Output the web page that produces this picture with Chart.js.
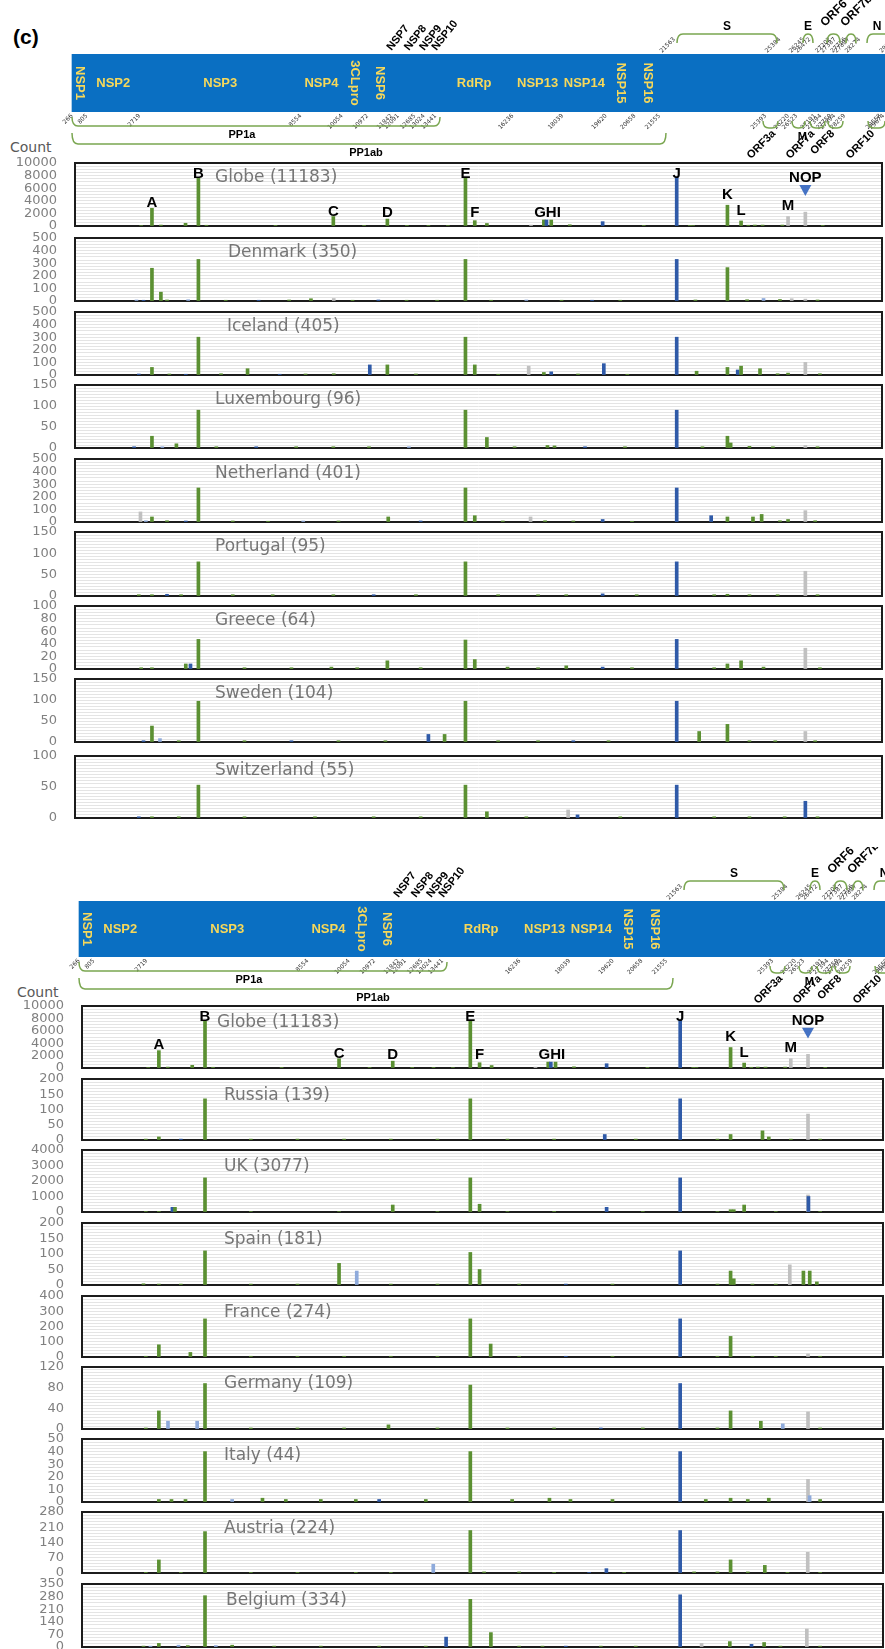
<!DOCTYPE html>
<html>
<head>
<meta charset="utf-8">
<script src="https://cdn.jsdelivr.net/npm/chart.js@4.4.1/dist/chart.umd.min.js"></script>
<style>
  html, body { margin: 0; padding: 0; background: #fff; }
  #page { position: relative; width: 885px; height: 1649px; overflow: hidden; }
  #page canvas { position: absolute; left: 0; }
  .lbl { position: absolute; font-family: "DejaVu Sans"; color: #595959; white-space: nowrap; }
</style>
</head>
<body>
<div id="page">
  <div class="lbl" style="left:13px;top:25px;font:bold 21px 'Liberation Sans';color:#000">(c)</div>
  <div class="lbl" style="left:10px;top:139px;font-size:14px">Count</div>
  <div class="lbl" style="left:17px;top:984px;font-size:14px">Count</div>
</div>
<script>
/* =========================
   GENOME MAP
==========================*/
const genomeRange = [266, 29903];
const boundaries = [805, 2719, 8554, 10054, 10972, 11842, 12091, 12685, 13024, 13441, 16236, 18039,
  19620, 20658, 21555, 25384, 26245, 26523, 27191, 27387, 27756, 27887, 28259, 29558];
const segNames = ["NSP1", "NSP2", "NSP3", "NSP4", "3CLpro", "NSP6", "RdRp", "NSP13", "NSP14", "NSP15", "NSP16"];
const segFrom = [266, 805, 2719, 8554, 10054, 10972, 13441, 16236, 18039, 19620, 20658];
const segTo = [805, 2719, 8554, 10054, 10972, 11842, 16236, 18039, 19620, 20658, 21555];
const segVertical = [true, false, false, false, true, true, false, false, false, true, true];
const smallNsp = ["NSP7", "NSP8", "NSP9", "NSP10"];
const smallNspAt = [11842, 12476, 13030, 13470];
const ticksBelow = [266, 805, 2719, 8554, 10054, 10972, 11842, 12091, 12685, 13024, 13441, 16236, 18039,
  19620, 20658, 21555, 25393, 26220, 26523, 27191, 27394, 27759, 27894, 28259, 29558, 29674];
const ticksAbove = [21563, 25384, 26245, 26472, 27202, 27387, 27756, 27887, 28274, 29533];

// brackets (genome units)
const aboveNames = ["S", "E", "ORF6", "ORF7b", "N"];
const aboveFrom = [22186, 26752, 27621, 28309, 29070];
const aboveTo = [25809, 27114, 28092, 28672, 29904];
const aboveLabelAt = [23997, 26933, 27549, 28273, 29433];
const aboveRotated = [false, false, true, true, false];
const belowNames = ["ORF3a", "M", "ORF7a", "ORF8", "ORF10"];
const belowFrom = [25302, 26353, 27005, 27657, 29107];
const belowTo = [25846, 26824, 27549, 28201, 29723];
const belowLabelAt = [25701, 26726, 27114, 27838, 29288];
const belowRotated = [true, false, true, true, true];
const polyNames = ["PP1a", "PP1ab"];
const polyFrom = [266, 266];
const polyTo = [13600, 21787];
const polyLabelAt = [6425, 10918];

/* =========================
   MUTATION COUNTS  [position, count, colour]
   g = green, b = dark blue, l = light blue, x = grey
==========================*/
const globeBars = [[600, 80, "g"], [1059, 2800, "g"], [1440, 150, "g"], [2489, 430, "g"], [3037, 7600, "g"],
  [3380, 120, "g"], [6320, 100, "g"], [8782, 1500, "g"], [10090, 100, "g"], [11083, 1100, "g"], [11915, 100, "g"],
  [12830, 100, "g"], [13660, 80, "g"], [14408, 7600, "g"], [14805, 850, "g"], [15321, 400, "g"],
  [17200, 150, "x"], [17747, 950, "g"], [17858, 950, "b"], [18060, 950, "g"], [18850, 200, "g"],
  [20250, 690, "b"], [22000, 60, "g"], [23403, 7750, "b"], [23960, 100, "g"], [24100, 80, "g"],
  [25563, 3300, "g"], [26144, 800, "g"], [26450, 120, "g"], [26730, 150, "g"], [27060, 150, "g"],
  [27900, 150, "g"], [28144, 1500, "x"], [28881, 2200, "x"], [29620, 100, "g"]];
const denmarkBars = [[400, 8, "l"], [700, 6, "b"], [1059, 260, "g"], [1440, 70, "g"], [1700, 8, "g"],
  [2600, 10, "l"], [3037, 330, "g"], [4200, 6, "g"], [5600, 6, "b"], [6900, 8, "g"], [7830, 18, "g"],
  [8800, 20, "x"], [9600, 6, "g"], [10700, 8, "b"], [11900, 6, "g"], [13200, 6, "g"], [14408, 330, "g"],
  [15500, 6, "g"], [17000, 8, "l"], [18500, 6, "g"], [19800, 6, "b"], [21000, 6, "g"], [23403, 330, "b"],
  [24200, 8, "g"], [25563, 265, "g"], [26400, 10, "g"], [27100, 20, "l"], [27800, 12, "g"],
  [28300, 18, "x"], [28881, 15, "x"], [29400, 8, "g"]];
const icelandBars = [[500, 8, "b"], [1059, 60, "g"], [1800, 8, "g"], [2500, 6, "b"], [3037, 300, "g"],
  [4000, 10, "g"], [5130, 50, "g"], [6500, 6, "b"], [7600, 8, "g"], [8800, 10, "g"], [10335, 80, "b"],
  [11083, 80, "g"], [12300, 8, "g"], [14408, 300, "g"], [14805, 80, "g"], [15800, 6, "g"], [17100, 70, "x"],
  [17747, 20, "g"], [18060, 25, "b"], [19200, 8, "g"], [20300, 90, "b"], [21300, 6, "g"], [23403, 300, "b"],
  [24250, 30, "g"], [25563, 60, "g"], [26000, 40, "b"], [26144, 70, "g"], [26950, 50, "g"], [27700, 10, "g"],
  [28144, 15, "g"], [28881, 100, "x"], [29500, 10, "g"]];
const luxembourgBars = [[300, 3, "b"], [1059, 28, "g"], [1500, 3, "l"], [2100, 10, "g"], [3037, 90, "g"],
  [3800, 3, "g"], [5500, 3, "b"], [7200, 3, "g"], [8782, 3, "g"], [10300, 3, "g"], [12000, 3, "l"],
  [14408, 90, "g"], [15320, 25, "g"], [16500, 3, "g"], [17900, 6, "g"], [18200, 5, "g"], [19500, 3, "b"],
  [21200, 3, "g"], [23403, 90, "b"], [24500, 3, "g"], [25563, 28, "g"], [25700, 12, "g"], [26500, 4, "g"],
  [27500, 3, "g"], [28881, 6, "x"], [29400, 3, "g"]];
const netherlandBars = [[570, 80, "x"], [800, 10, "l"], [1059, 40, "g"], [1700, 10, "g"], [2500, 8, "b"],
  [3037, 270, "g"], [4500, 8, "g"], [6000, 6, "g"], [7500, 8, "l"], [9000, 8, "g"], [11120, 40, "g"],
  [12500, 8, "b"], [14408, 270, "g"], [14805, 50, "g"], [16000, 8, "g"], [17180, 40, "x"], [17800, 10, "g"],
  [19000, 8, "g"], [20250, 20, "b"], [21500, 6, "g"], [23403, 270, "b"], [24870, 50, "b"], [25563, 40, "g"],
  [26650, 40, "g"], [27020, 60, "g"], [27800, 10, "g"], [28144, 20, "g"], [28881, 90, "x"], [29300, 10, "g"]];
const portugalBars = [[500, 3, "g"], [1059, 3, "g"], [1700, 4, "b"], [2300, 3, "g"], [3037, 80, "g"],
  [4500, 3, "g"], [6200, 3, "g"], [8782, 3, "g"], [10500, 3, "b"], [12300, 3, "g"], [14408, 80, "g"],
  [15800, 3, "g"], [17500, 3, "g"], [18700, 3, "g"], [20250, 5, "b"], [21700, 3, "g"], [23403, 80, "b"],
  [25000, 3, "g"], [25563, 4, "g"], [26500, 3, "g"], [27700, 3, "g"], [28881, 58, "x"], [29400, 3, "g"]];
const greeceBars = [[600, 2, "g"], [1059, 2, "g"], [2500, 8, "g"], [2700, 8, "b"], [3037, 47, "g"],
  [5000, 2, "g"], [7000, 2, "g"], [8700, 3, "g"], [9800, 2, "g"], [11083, 13, "g"], [12500, 2, "g"],
  [14408, 46, "g"], [14805, 15, "g"], [16200, 3, "g"], [17500, 2, "g"], [18700, 5, "g"], [20250, 3, "b"],
  [21500, 2, "g"], [23403, 47, "b"], [25000, 2, "g"], [25563, 8, "g"], [26144, 13, "g"], [27100, 3, "g"],
  [28881, 33, "x"], [29500, 2, "g"]];
const swedenBars = [[700, 3, "b"], [1059, 38, "g"], [1400, 8, "l"], [2200, 3, "g"], [3037, 97, "g"],
  [5000, 3, "g"], [7000, 3, "b"], [9000, 3, "g"], [11000, 3, "g"], [12830, 18, "b"], [13520, 18, "g"],
  [14408, 97, "g"], [15800, 3, "g"], [17500, 3, "g"], [19000, 3, "b"], [20500, 3, "g"], [23403, 97, "b"],
  [24360, 25, "g"], [25563, 42, "g"], [26500, 3, "g"], [27600, 3, "g"], [28881, 25, "x"], [29300, 3, "g"]];
const switzerlandBars = [[500, 2, "b"], [1059, 2, "g"], [2200, 2, "g"], [3037, 53, "g"], [5000, 2, "g"],
  [8000, 2, "g"], [10500, 2, "g"], [12500, 2, "g"], [14408, 53, "g"], [15320, 10, "g"], [17000, 2, "g"],
  [18780, 13, "x"], [19180, 5, "b"], [21000, 2, "g"], [23403, 53, "b"], [25000, 2, "g"], [26500, 2, "g"],
  [28000, 2, "g"], [28881, 27, "b"], [29400, 2, "g"]];
const russiaBars = [[500, 3, "g"], [1059, 10, "g"], [2000, 3, "b"], [3037, 135, "g"], [5000, 3, "g"],
  [7000, 3, "g"], [9000, 3, "g"], [11000, 3, "g"], [13000, 3, "g"], [14408, 135, "g"], [16000, 3, "g"],
  [18000, 3, "g"], [20170, 18, "b"], [21500, 3, "g"], [23403, 135, "b"], [25000, 3, "g"], [25563, 18, "g"],
  [26930, 30, "g"], [27200, 10, "g"], [28144, 3, "g"], [28881, 85, "x"], [29400, 3, "g"]];
const ukBars = [[500, 30, "g"], [1059, 40, "g"], [1640, 300, "b"], [1750, 300, "g"], [3037, 2200, "g"],
  [5000, 30, "g"], [8782, 30, "g"], [11083, 450, "g"], [13000, 30, "g"], [14408, 2200, "g"], [14805, 500, "g"],
  [16000, 30, "g"], [18000, 40, "g"], [20250, 300, "b"], [21800, 30, "g"], [23403, 2200, "b"], [25000, 30, "g"],
  [25563, 150, "g"], [25700, 150, "g"], [26144, 450, "g"], [27500, 30, "g"], [28881, 1100, "x"],
  [28900, 1000, "b"], [29400, 30, "g"]];
const spainBars = [[400, 4, "g"], [1059, 3, "g"], [2000, 3, "g"], [3037, 110, "g"], [5000, 3, "g"],
  [7000, 3, "g"], [8782, 70, "g"], [9540, 45, "l"], [11000, 3, "g"], [13000, 3, "g"], [14408, 105, "g"],
  [14805, 50, "g"], [16500, 3, "g"], [18500, 3, "b"], [20500, 3, "g"], [23403, 110, "b"], [25000, 3, "g"],
  [25563, 45, "g"], [25700, 20, "g"], [26500, 3, "g"], [27500, 3, "g"], [28100, 65, "x"], [28684, 45, "g"],
  [28955, 45, "g"], [29260, 10, "g"]];
const franceBars = [[500, 5, "g"], [1059, 80, "g"], [2410, 30, "g"], [3037, 250, "g"], [5000, 5, "g"],
  [7000, 5, "g"], [9000, 5, "g"], [11000, 5, "g"], [13000, 5, "g"], [14408, 250, "g"], [15280, 85, "g"],
  [16500, 5, "g"], [18500, 5, "b"], [20500, 5, "g"], [23403, 250, "b"], [25000, 5, "g"], [25563, 135, "g"],
  [26500, 5, "g"], [27500, 5, "g"], [28881, 20, "x"], [29400, 5, "g"]];
const germanyBars = [[500, 2, "g"], [1059, 35, "g"], [1450, 15, "l"], [2700, 15, "l"], [3037, 88, "g"],
  [5000, 2, "g"], [7000, 2, "g"], [9000, 2, "g"], [10900, 8, "g"], [13000, 2, "g"], [14408, 85, "g"],
  [16000, 2, "g"], [18000, 2, "g"], [20000, 2, "b"], [21800, 2, "g"], [23403, 88, "b"], [25000, 2, "g"],
  [25563, 35, "g"], [26860, 15, "g"], [27800, 10, "l"], [28881, 33, "x"], [29400, 2, "g"]];
const italyBars = [[1059, 2, "g"], [1600, 2, "g"], [2200, 2, "g"], [3037, 40, "g"], [4200, 2, "l"],
  [5500, 3, "g"], [6500, 2, "g"], [8000, 2, "g"], [9500, 2, "g"], [10500, 2, "b"], [12500, 2, "g"],
  [14408, 40, "g"], [16200, 2, "g"], [17800, 3, "g"], [18700, 2, "g"], [20500, 2, "g"], [23403, 40, "b"],
  [24500, 2, "g"], [25563, 3, "g"], [26300, 2, "g"], [27200, 3, "g"], [28881, 18, "x"], [28950, 5, "l"],
  [29400, 2, "g"]];
const austriaBars = [[500, 3, "g"], [1059, 60, "g"], [2000, 3, "g"], [3037, 190, "g"], [5000, 3, "g"],
  [7000, 3, "g"], [9500, 3, "g"], [11000, 3, "g"], [12820, 40, "l"], [14408, 195, "g"], [15000, 5, "g"],
  [16500, 5, "g"], [18000, 3, "g"], [19500, 3, "b"], [20240, 20, "b"], [21000, 3, "g"], [23403, 195, "b"],
  [24000, 5, "g"], [25000, 5, "g"], [25563, 60, "g"], [26300, 5, "g"], [27030, 35, "g"], [28000, 3, "g"],
  [28870, 95, "x"], [29400, 3, "g"]];
const belgiumBars = [[400, 5, "g"], [700, 5, "l"], [1059, 20, "g"], [1900, 10, "l"], [2300, 8, "g"],
  [3037, 285, "g"], [3500, 8, "l"], [4200, 10, "g"], [6000, 5, "g"], [8000, 5, "g"], [10500, 5, "g"],
  [12500, 5, "g"], [13370, 55, "b"], [14408, 265, "g"], [15290, 80, "g"], [16500, 5, "g"], [17500, 5, "g"],
  [18500, 5, "b"], [20000, 5, "g"], [21500, 5, "g"], [23403, 290, "b"], [24320, 20, "x"], [25530, 30, "g"],
  [26460, 15, "b"], [27000, 25, "g"], [27700, 5, "g"], [28830, 100, "x"], [29400, 5, "g"]];

/* tick labels */
const ticks10000 = [0, 2000, 4000, 6000, 8000, 10000];
const ticks500 = [0, 100, 200, 300, 400, 500];
const ticks150 = [0, 50, 100, 150];
const ticks100by20 = [0, 20, 40, 60, 80, 100];
const ticks100by50 = [0, 50, 100];
const ticks200 = [0, 50, 100, 150, 200];
const ticks4000 = [0, 1000, 2000, 3000, 4000];
const ticks400 = [0, 100, 200, 300, 400];
const ticks120 = [0, 40, 80, 120];
const ticks50 = [0, 10, 20, 30, 40, 50];
const ticks280 = [0, 70, 140, 210, 280];
const ticks350 = [0, 70, 140, 210, 280, 350];

/* letters on the Globe panels */
const globeLetters = ["A", "B", "C", "D", "E", "F", "GHI", "J", "K", "L", "M", "NOP"];
const globeLetterAt = [1059, 3037, 8782, 11083, 14408, 14805, 17900, 23403, 25563, 26144, 28144, 28881];
const globeLetterCount = [3016, 7540, 1587, 1429, 7540, 1429, 1429, 7540, 4286, 1746, 2540, 6984];

/* =========================
   STYLE
==========================*/
const COLORS = { g: "#5b9032", b: "#2f5aa8", l: "#8eaadb", x: "#c0c0c0" };
Chart.defaults.font.family = "DejaVu Sans";
const page = document.getElementById("page");

function bracket(ctx, x1, x2, yEnd, yLine) {
  const r = Math.min(6, (x2 - x1) / 2);
  ctx.beginPath();
  ctx.moveTo(x1, yEnd);
  ctx.quadraticCurveTo(x1, yLine, x1 + r, yLine);
  ctx.lineTo(x2 - r, yLine);
  ctx.quadraticCurveTo(x2, yLine, x2, yEnd);
  ctx.stroke();
}

function rotText(ctx, text, x, y, angle, align) {
  ctx.save();
  ctx.translate(x, y);
  ctx.rotate(angle);
  ctx.textAlign = align;
  ctx.fillText(text, 0, 0);
  ctx.restore();
}

/* =========================
   MAP CHART
==========================*/
function makeMap(m) {
  const H = 170;
  const cv = document.createElement("canvas");
  cv.width = 885;
  cv.height = H;
  cv.style.top = m.top + "px";
  page.appendChild(cv);

  const slope = 0.0276;
  const xMin = 266 - m.left266 / slope;
  const xMax = 266 + (885 - m.left266) / slope;

  const datasets = [{ data: [genomeRange], backgroundColor: "#0a6fc2" }];
  boundaries.forEach((p) => {
    datasets.push({ data: [[p - 25, p + 25]], backgroundColor: "#142f66" });
  });

  const mapPlugin = {
    id: "mapText",
    afterDatasetsDraw(chart) {
      const ctx = chart.ctx;
      const X = (v) => chart.scales.x.getPixelForValue(v);
      const T = chart.chartArea.top;
      const B = chart.chartArea.bottom;
      ctx.save();

      // segment names
      ctx.fillStyle = "#f7d85a";
      ctx.font = 'bold 13px "Liberation Sans"';
      ctx.textBaseline = "middle";
      segNames.forEach((n, i) => {
        const x = X((segFrom[i] + segTo[i]) / 2);
        const y = (T + B) / 2;
        if (segVertical[i]) rotText(ctx, n, x, y, Math.PI / 2, "center");
        else { ctx.textAlign = "center"; ctx.fillText(n, x, y); }
      });

      // position numbers
      ctx.fillStyle = "#333";
      ctx.font = '6px "DejaVu Sans"';
      ticksBelow.forEach((v) => rotText(ctx, String(v), X(v), B + 3, -Math.PI / 4, "right"));
      ticksAbove.forEach((v) => rotText(ctx, String(v), X(v) + 1, T - 2, -Math.PI / 4, "left"));

      // NSP7..NSP10
      ctx.fillStyle = "#000";
      ctx.textBaseline = "alphabetic";
      ctx.font = 'bold 11px "Liberation Sans"';
      smallNsp.forEach((n, i) => rotText(ctx, n, X(smallNspAt[i]), T - 3, -0.9, "left"));

      // brackets
      ctx.strokeStyle = "#7aa650";
      ctx.lineWidth = 1.5;
      aboveNames.forEach((n, i) => bracket(ctx, X(aboveFrom[i]), X(aboveTo[i]), T - 11, T - 20));
      belowNames.forEach((n, i) => bracket(ctx, X(belowFrom[i]), X(belowTo[i]), B + 9, B + 16));
      bracket(ctx, X(polyFrom[0]), X(polyTo[0]), B + 5, B + 14);
      bracket(ctx, X(polyFrom[1]), X(polyTo[1]), B + 21, B + 32);

      ctx.fillStyle = "#000";
      ctx.textBaseline = "middle";
      ctx.font = 'bold 12px "Liberation Sans"';
      aboveNames.forEach((n, i) => {
        if (aboveRotated[i]) {
          ctx.textBaseline = "alphabetic";
          rotText(ctx, n, X(aboveLabelAt[i]), T - 27, -Math.PI / 4, "left");
          ctx.textBaseline = "middle";
        } else {
          ctx.textAlign = "center";
          ctx.fillText(n, X(aboveLabelAt[i]), T - 27);
        }
      });
      ctx.font = 'bold 11px "Liberation Sans"';
      belowNames.forEach((n, i) => {
        if (belowRotated[i]) rotText(ctx, n, X(belowLabelAt[i]), B + 20, -Math.PI / 4, "right");
        else { ctx.textAlign = "center"; ctx.fillText(n, X(belowLabelAt[i]), B + 25); }
      });
      polyNames.forEach((n, i) => {
        ctx.textAlign = "center";
        ctx.fillText(n, X(polyLabelAt[i]), B + (i === 0 ? 23 : 41));
      });
      ctx.restore();
    },
  };

  new Chart(cv, {
    type: "bar",
    data: { labels: ["genome"], datasets },
    options: {
      indexAxis: "y",
      responsive: false,
      animation: false,
      events: [],
      grouped: false,
      barPercentage: 1,
      categoryPercentage: 1,
      layout: { padding: { top: m.barTop, bottom: H - m.barBottom, left: 0, right: 0 } },
      plugins: { legend: { display: false }, tooltip: { enabled: false } },
      scales: {
        x: { type: "linear", min: xMin, max: xMax, display: false },
        y: { display: false },
      },
    },
    plugins: [mapPlugin],
  });
}

/* =========================
   PANEL CHARTS
==========================*/
const framePlugin = {
  id: "frame",
  beforeDatasetsDraw(chart) {
    const a = chart.chartArea;
    const ctx = chart.ctx;
    const p = chart.options.plugins.panel;
    ctx.save();
    ctx.fillStyle = "#767676";
    ctx.font = '17px "DejaVu Sans"';
    ctx.textBaseline = "middle";
    ctx.fillText(p.title, p.tx, a.top + p.ty);
    ctx.strokeStyle = "#1c1c1c";
    ctx.lineWidth = 2;
    ctx.strokeRect(a.left, a.top, a.right - a.left, a.bottom - a.top);
    ctx.restore();
  },
};

const letterPlugin = {
  id: "letters",
  afterDatasetsDraw(chart) {
    if (!chart.options.plugins.panel.globe) return;
    const ctx = chart.ctx;
    const xs = chart.scales.x;
    const ys = chart.scales.y;
    ctx.save();
    ctx.fillStyle = "#000";
    ctx.font = 'bold 15px "Liberation Sans"';
    ctx.textAlign = "center";
    ctx.textBaseline = "alphabetic";
    globeLetters.forEach((t, i) => {
      ctx.fillText(t, xs.getPixelForValue(globeLetterAt[i]), ys.getPixelForValue(globeLetterCount[i]));
    });
    // blue marker under NOP
    const tx = xs.getPixelForValue(28881);
    const t1 = ys.getPixelForValue(6508);
    const t2 = ys.getPixelForValue(4762);
    ctx.fillStyle = "#4472c4";
    ctx.beginPath();
    ctx.moveTo(tx - 6, t1);
    ctx.lineTo(tx + 6, t1);
    ctx.lineTo(tx, t2);
    ctx.closePath();
    ctx.fill();
    ctx.restore();
  },
};

function makePanel(p, half) {
  // padding larger than the axis' own label padding, so the plot box lands exactly
  const pad = 34;
  const h = p.bottom - p.top;
  const cv = document.createElement("canvas");
  cv.width = 885;
  cv.height = h + pad * 2;
  cv.style.top = p.top - pad + "px";
  page.appendChild(cv);

  const yMax = p.ticks[p.ticks.length - 1];
  const nFine = (p.ticks.length - 1) * Math.round(20 / (p.ticks.length - 1));

  new Chart(cv, {
    type: "bar",
    data: {
      datasets: [
        {
          data: p.bars.map((b) => ({ x: b[0], y: b[1], c: b[2] })),
          backgroundColor: (c) => COLORS[c.raw ? c.raw.c : "g"],
          barThickness: 3,
        },
      ],
    },
    options: {
      responsive: false,
      animation: false,
      events: [],
      layout: { padding: { top: pad, bottom: pad, left: 0, right: 885 - half.right } },
      plugins: {
        legend: { display: false },
        tooltip: { enabled: false },
        panel: { title: p.title, tx: p.tx, ty: half.ty, globe: !!p.globe },
      },
      scales: {
        x: { type: "linear", min: half.xMin, max: half.xMax, display: false },
        y: {
          min: 0,
          max: yMax,
          afterFit: (s) => { s.width = half.left; },
          afterBuildTicks: (s) => {
            const arr = [];
            for (let i = 0; i <= nFine; i++) arr.push({ value: (yMax * i) / nFine });
            s.ticks = arr;
          },
          ticks: {
            autoSkip: false,
            padding: 18,
            color: "#808080",
            font: { size: 13 },
            callback: (v) => {
              const hit = p.ticks.find((t) => Math.abs(t - v) < yMax * 1e-6);
              return hit === undefined ? "" : String(hit);
            },
          },
          grid: { color: "#e4e4e4", drawTicks: false },
          border: { display: false },
        },
      },
    },
    plugins: [framePlugin, letterPlugin],
  });
}

const topHalf = { left: 75, right: 882, xMin: 237, xMax: 29690, ty: 15 };
const bottomHalf = { left: 82, right: 883, xMin: 217, xMax: 29643, ty: 17 };

const topPanels = [
  { title: "Globe (11183)", bars: globeBars, ticks: ticks10000, top: 163, bottom: 226, tx: 215, globe: true },
  { title: "Denmark (350)", bars: denmarkBars, ticks: ticks500, top: 238, bottom: 301, tx: 228 },
  { title: "Iceland (405)", bars: icelandBars, ticks: ticks500, top: 312, bottom: 375, tx: 227 },
  { title: "Luxembourg (96)", bars: luxembourgBars, ticks: ticks150, top: 385, bottom: 448, tx: 215 },
  { title: "Netherland (401)", bars: netherlandBars, ticks: ticks500, top: 459, bottom: 522, tx: 215 },
  { title: "Portugal (95)", bars: portugalBars, ticks: ticks150, top: 532, bottom: 596, tx: 215 },
  { title: "Greece (64)", bars: greeceBars, ticks: ticks100by20, top: 606, bottom: 669, tx: 215 },
  { title: "Sweden (104)", bars: swedenBars, ticks: ticks150, top: 679, bottom: 742, tx: 215 },
  { title: "Switzerland (55)", bars: switzerlandBars, ticks: ticks100by50, top: 756, bottom: 818, tx: 215 },
];
const bottomPanels = [
  { title: "Globe (11183)", bars: globeBars, ticks: ticks10000, top: 1006, bottom: 1068, tx: 217, globe: true },
  { title: "Russia (139)", bars: russiaBars, ticks: ticks200, top: 1079, bottom: 1140, tx: 224 },
  { title: "UK (3077)", bars: ukBars, ticks: ticks4000, top: 1150, bottom: 1212, tx: 224 },
  { title: "Spain (181)", bars: spainBars, ticks: ticks200, top: 1223, bottom: 1285, tx: 224 },
  { title: "France (274)", bars: franceBars, ticks: ticks400, top: 1296, bottom: 1357, tx: 224 },
  { title: "Germany (109)", bars: germanyBars, ticks: ticks120, top: 1367, bottom: 1429, tx: 224 },
  { title: "Italy (44)", bars: italyBars, ticks: ticks50, top: 1439, bottom: 1502, tx: 224 },
  { title: "Austria (224)", bars: austriaBars, ticks: ticks280, top: 1512, bottom: 1573, tx: 224 },
  { title: "Belgium (334)", bars: belgiumBars, ticks: ticks350, top: 1584, bottom: 1647, tx: 226 },
];

makeMap({ top: 0, barTop: 54, barBottom: 112, left266: 72 });
makeMap({ top: 847, barTop: 54, barBottom: 110, left266: 79 });
topPanels.forEach((p) => makePanel(p, topHalf));
bottomPanels.forEach((p) => makePanel(p, bottomHalf));
</script>
</body>
</html>
